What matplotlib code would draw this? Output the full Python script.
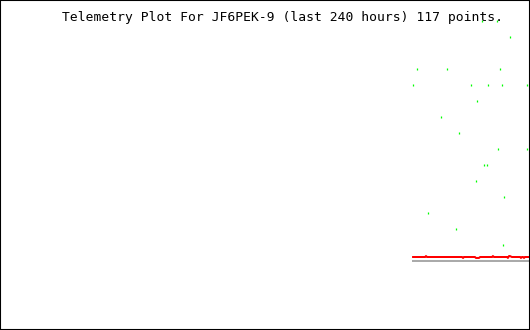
import matplotlib
matplotlib.use("Agg")
import matplotlib.pyplot as plt
from matplotlib.patches import Rectangle

# green telemetry samples (hours relative to now, value level)
green_hours = [-53.0, -51.2, -46.2, -40.3, -37.6, -33.5, -32.2, -26.7, -24.5, -24.0,
               -21.7, -20.8, -19.5, -19.0, -14.9, -14.5, -13.6, -12.7, -12.2, -11.8,
               -9.1, -1.4, -1.4]
green_vals = [11, 12, 3, 9, 12, 2, 8, 11, 5, 10,
              15, 6, 6, 11, 15, 7, 12, 11, 1, 4,
              14, 11, 7]

# red series
red_hours = [-53.4, -47.5, -47.1, -46.6, -30.8, -30.3, -29.9, -24.9, -24.5, -23.1,
             -22.6, -17.2, -16.8, -16.3, -10.4, -10.0, -9.5, -9.1, -8.2, -4.5,
             -4.1, -3.6, -3.2, -2.7, -2.3, -0.4]
red_vals = [0.25, 0.25, 0.31, 0.25, 0.25, 0.19, 0.25, 0.25, 0.19, 0.19,
            0.25, 0.25, 0.31, 0.25, 0.25, 0.19, 0.31, 0.31, 0.25, 0.25,
            0.19, 0.25, 0.25, 0.19, 0.25, 0.25]

# gray baseline
base_hours = [-53.4, 0]
base_vals = [0, 0]

title = "Telemetry Plot For JF6PEK-9 (last 240 hours) 117 points."

fig = plt.figure(figsize=(5.3, 3.3), dpi=100)
ax = fig.add_axes([0, 0, 1, 1])
ax.set_xlim(-240, 0)
ax.set_ylim(-4.3125, 16.3125)
ax.axis("off")

ax.plot(base_hours, base_vals, color="#aaaaaa", linewidth=1.44,
        solid_capstyle="butt")
ax.plot(red_hours, red_vals, color="#ff0000", linewidth=1.44,
        solid_capstyle="butt")
ax.plot(green_hours, green_vals, linestyle="none", marker="|", markersize=1.8,
        markeredgewidth=0.9, color="#00ff00", antialiased=False)

fig.text(282 / 530, 1 - 17.5 / 330, title, ha="center", va="center",
         family="DejaVu Sans Mono", fontsize=9.4, color="black")

fig.patches.append(Rectangle((0, 0), 1, 1, transform=fig.transFigure, fill=False,
                             edgecolor="black", linewidth=1.5))

fig.savefig("out.png", dpi=100)
